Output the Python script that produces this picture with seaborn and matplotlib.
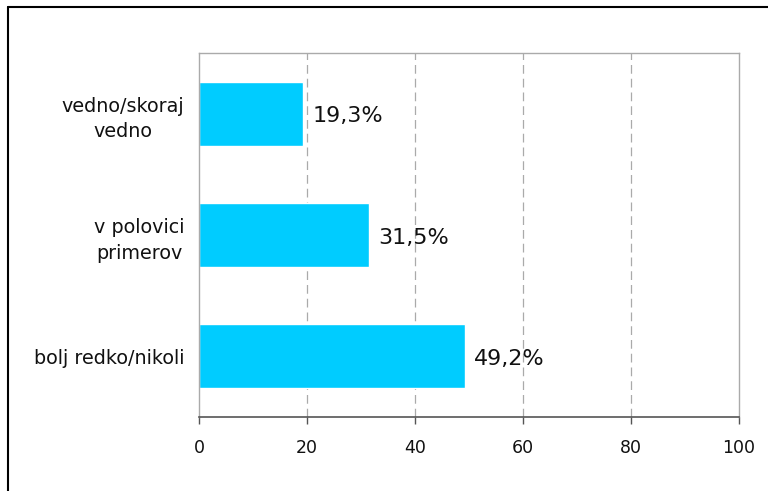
import matplotlib
matplotlib.use("Agg")
import matplotlib.pyplot as plt
import seaborn as sns
import pandas as pd
from matplotlib.lines import Line2D

categories = ["vedno/skoraj\nvedno", "v polovici\nprimerov", "bolj redko/nikoli"]
values = [19.3, 31.5, 49.2]
value_labels = ["19,3%", "31,5%", "49,2%"]
x_ticks = [0, 20, 40, 60, 80, 100]

sns.set_theme(style="white")
plt.rcParams['font.family'] = ['DejaVu Sans']

df = pd.DataFrame({"cat": categories, "val": values})

fig = plt.figure(figsize=(7.68, 4.91), dpi=100)
W, H = 768, 491
ax = fig.add_axes([199 / W, 1 - 417 / H, (739 - 199) / W, (417 - 53) / H])

sns.barplot(data=df, x="val", y="cat", orient="h", color="#00CCFF",
            saturation=1, width=0.53, ax=ax)

ax.set_xlim(0, 100)
ax.set_ylim(2.5, -0.5)
ax.set_xticks(x_ticks)
ax.set_xticklabels([str(t) for t in x_ticks], fontsize=12.5, color="#111111")
ax.set_xlabel("")
ax.set_ylabel("")
for t in x_ticks[1:-1]:
    ax.axvline(t, color="#AAAAAA", linestyle=(0, (7, 4)), linewidth=0.9, zorder=0)

for lbl in ax.get_yticklabels():
    lbl.set_multialignment("center")
    lbl.set_fontsize(13.8)
    lbl.set_linespacing(1.45)
    lbl.set_color("#111111")

ax.tick_params(axis="x", direction="out", length=5, width=1, color="#555555", pad=11, bottom=True)
ax.tick_params(axis="y", length=0, pad=10.5)

for side in ["top", "right", "left"]:
    ax.spines[side].set_visible(True)
    ax.spines[side].set_color("#AAAAAA")
    ax.spines[side].set_linewidth(1)
ax.spines["bottom"].set_color("#555555")
ax.spines["bottom"].set_linewidth(1.2)

for i, (v, s) in enumerate(zip(values, value_labels)):
    ax.annotate(s, xy=(v, i), xytext=(6.5, -2), textcoords="offset points",
                ha="left", va="center", fontsize=16, color="#111111")

# outer frame (left and top edges)
fig.add_artist(Line2D([8 / W, 8 / W], [0, 1 - 7 / H], transform=fig.transFigure,
                      color="black", linewidth=1.5))
fig.add_artist(Line2D([8 / W, 1], [1 - 7 / H, 1 - 7 / H], transform=fig.transFigure,
                      color="black", linewidth=1.5))

fig.savefig("out.png", dpi=100)
